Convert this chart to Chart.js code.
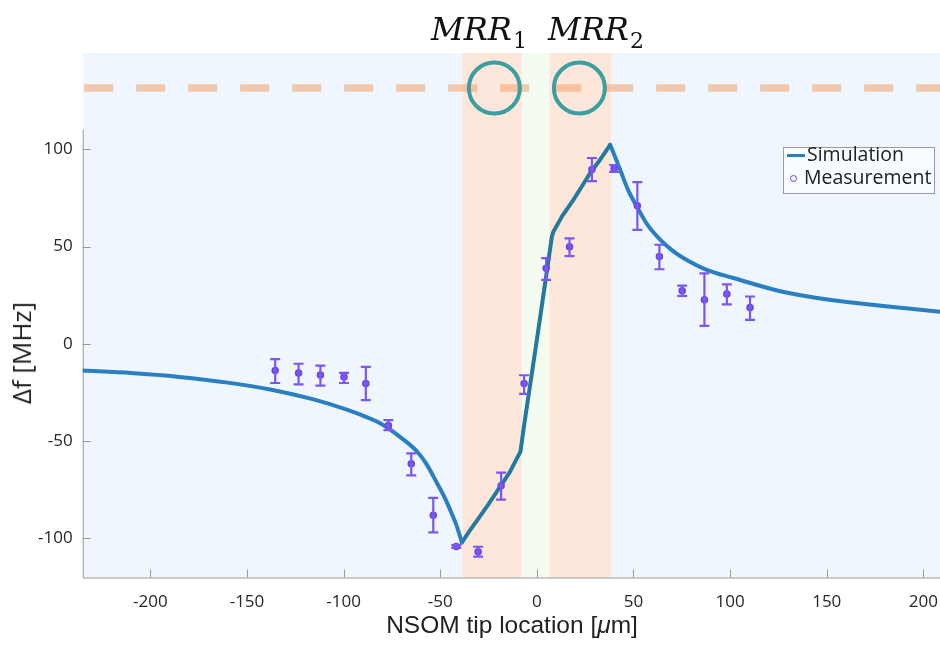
<!DOCTYPE html>
<html>
<head>
<meta charset="utf-8">
<script src="https://cdn.jsdelivr.net/npm/chart.js@4"></script>
<style>
  body { margin: 0; background: #fff; }
  #wrap { position: relative; width: 940px; height: 645px; overflow: hidden; }
  .mrr { position: absolute; font-family: "DejaVu Serif", serif; font-style: italic; font-size: 32px; line-height: 32px; color: #111; white-space: nowrap; }
  .mrr span { font-style: normal; font-size: 22px; vertical-align: -8px; margin-left: 1px; }
  #legend { position: absolute; left: 783px; top: 147px; width: 150px; height: 45px; border: 1px solid #9a9a9a; background: #f8fbff; font-family: "Open Sans", sans-serif; font-size: 19.5px; color: #222; }
  #legend .row { position: absolute; left: 0; height: 23px; line-height: 23px; white-space: nowrap; }
  #ylabel { position: absolute; left: 21px; top: 353px; transform: translate(-50%, -50%) rotate(-90deg); font-family: "Open Sans", sans-serif; font-size: 26px; color: #222; white-space: nowrap; }
  #xlabel { position: absolute; left: 512px; top: 625px; transform: translate(-50%, -50%); font-family: "Liberation Sans", sans-serif; font-size: 24.5px; color: #222; white-space: nowrap; }
</style>
</head>
<body>
<div id="wrap">
  <canvas id="chart"></canvas>
  <div class="mrr" style="left:431px; top:13px;">MRR<span>1</span></div>
  <div class="mrr" style="left:548px; top:13px;">MRR<span>2</span></div>
  <div id="legend">
    <div class="row" style="top:-6px;"><span style="display:inline-block;width:18px;height:3px;background:#2a7fc1;vertical-align:middle;margin:0 2px 0 3px;"></span>Simulation</div>
    <div class="row" style="top:17px;"><span style="display:inline-block;width:5px;height:5px;border:1.5px solid #6a42e8;border-radius:50%;vertical-align:middle;margin:0 7px 0 6px;"></span>Measurement</div>
  </div>
  <div id="ylabel">Δf [MHz]</div>
  <div id="xlabel">NSOM tip location [<i>μ</i>m]</div>
</div>
<script>
// simulated frequency shift along the tip path
const simX = [-235, -210, -185, -160, -138, -116, -98, -90, -80, -70, -62, -57, -51.7, -48, -44.9, -41.4, -38.8,
  -35, -30, -25, -19, -14, -8.5, -6.9, 0, 7.8, 8.5, 13, 18.9, 23, 27.6, 33, 37.9,
  40.5, 43.1, 47, 51.7, 57, 63.8, 70, 75.8, 87.9, 101.7, 126, 151.3, 178, 208.6];
const simY = [-13.8, -15.1, -17.1, -20.0, -23.5, -28.5, -34.0, -37.0, -41.5, -48.5, -55.4, -62, -71.6, -78.5, -85.3, -93.9, -102.2,
  -96.5, -89.5, -82.5, -73.5, -66, -55.5, -44, 2, 55.2, 57.5, 65.5, 74, 80.5, 87.8, 95, 102.3,
  96, 89.5, 79.5, 70.6, 61.5, 53.5, 48, 44.1, 38, 33.8, 27, 22.6, 19.5, 16.5];
// the two sharp corners of the curve (dip and peak)
const simDipX = -38.8;
const simPeakX = 37.9;

// measured points with error bar ends
const measX = [-135.4, -123.3, -112.0, -99.8, -88.5, -76.8, -65.0, -53.6, -41.7, -30.4, -18.5,
  -6.6, 4.8, 16.9, 28.5, 40.0, 52.0, 63.4, 75.2, 86.7, 98.3, 110.3];
const measY = [-13.7, -15.0, -16.1, -17.1, -20.5, -42.0, -61.7, -88.2, -104.3, -106.9, -73.0,
  -20.5, 38.8, 49.9, 89.6, 90.1, 70.9, 44.8, 27.3, 22.6, 25.6, 18.6];
const measHi = [-7.9, -10.3, -11.3, -15.0, -11.9, -39.3, -56.4, -79.3, -103.6, -104.4, -66.3,
  -16.2, 44.0, 54.2, 95.5, 91.9, 83.1, 50.9, 29.9, 36.2, 30.5, 24.3];
const measLo = [-20.2, -20.9, -21.5, -20.2, -29.0, -44.4, -67.7, -97.0, -105.0, -109.5, -80.2,
  -25.8, 32.8, 45.1, 83.6, 88.4, 58.5, 38.3, 24.6, 9.2, 20.2, 12.3];

// resonator regions and markers
const ringBands = [[-38.5, -7.8], [6.4, 38.4]];
const gapBand = [-7.8, 6.4];
const ringCenters = [-22, 22];
const waveguideY = 131.5;

const xTicks = [-200, -150, -100, -50, 0, 50, 100, 150, 200];
const yTicks = [-100, -50, 0, 50, 100];

const axisColor = '#9a9a9a';
const simColor = '#2a7fc1';
const simColorInRing = '#24799f';

const decorPlugin = {
  id: 'decor',
  beforeDatasetsDraw(chart) {
    const { ctx, chartArea: a, scales: { x, y } } = chart;
    ctx.save();
    ctx.fillStyle = '#f0f6fe';
    ctx.fillRect(a.left, a.top, a.right - a.left, a.bottom - a.top);
    ctx.fillStyle = '#fde7da';
    ringBands.forEach(b => {
      const x0 = x.getPixelForValue(b[0]), x1 = x.getPixelForValue(b[1]);
      ctx.fillRect(x0, a.top, x1 - x0, a.bottom - a.top);
    });
    ctx.fillStyle = '#f4fbf1';
    const g0 = x.getPixelForValue(gapBand[0]), g1 = x.getPixelForValue(gapBand[1]);
    ctx.fillRect(g0, a.top, g1 - g0, a.bottom - a.top);

    // waveguide dashes
    const wy = y.getPixelForValue(waveguideY);
    ctx.strokeStyle = 'rgba(242,150,88,0.48)';
    ctx.lineWidth = 7.5;
    ctx.setLineDash([29, 23]);
    ctx.beginPath();
    ctx.moveTo(a.left + 1.5, wy);
    ctx.lineTo(a.right, wy);
    ctx.stroke();
    ctx.setLineDash([]);

    // rings
    ctx.strokeStyle = '#3b9ea0';
    ctx.lineWidth = 4;
    ringCenters.forEach(c => {
      ctx.beginPath();
      ctx.arc(x.getPixelForValue(c), wy, 25.5, 0, Math.PI * 2);
      ctx.stroke();
    });

    // axes with inward ticks
    ctx.strokeStyle = axisColor;
    ctx.lineWidth = 1;
    ctx.beginPath();
    ctx.moveTo(a.left + 0.5, y.getPixelForValue(110));
    ctx.lineTo(a.left + 0.5, a.bottom + 0.5);
    ctx.lineTo(a.right, a.bottom + 0.5);
    xTicks.forEach(v => {
      const px = Math.round(x.getPixelForValue(v)) + 0.5;
      ctx.moveTo(px, a.bottom);
      ctx.lineTo(px, a.bottom - 8);
    });
    yTicks.forEach(v => {
      const py = Math.round(y.getPixelForValue(v)) + 0.5;
      ctx.moveTo(a.left, py);
      ctx.lineTo(a.left + 8, py);
    });
    ctx.stroke();
    ctx.restore();
  },
  afterDatasetsDraw(chart) {
    const { ctx, scales: { x, y } } = chart;
    ctx.save();
    ctx.strokeStyle = '#7b57f2';
    ctx.lineWidth = 2.2;
    ctx.beginPath();
    measX.forEach((mx, i) => {
      const px = x.getPixelForValue(mx);
      const hi = y.getPixelForValue(measHi[i]);
      const lo = y.getPixelForValue(measLo[i]);
      ctx.moveTo(px, hi); ctx.lineTo(px, lo);
      ctx.moveTo(px - 5, hi); ctx.lineTo(px + 5, hi);
      ctx.moveTo(px - 5, lo); ctx.lineTo(px + 5, lo);
    });
    ctx.stroke();
    ctx.restore();
  }
};

const simPoints = simX.map((v, i) => ({ x: v, y: simY[i] }));
// smooth tails on each side, straight pieces between the dip and the peak
const simLeft = simPoints.filter(p => p.x <= simDipX);
const simMid = simPoints.filter(p => p.x >= simDipX && p.x <= simPeakX);
const simRight = simPoints.filter(p => p.x >= simPeakX);

const simLine = (data, smooth, color) => ({
  label: 'Simulation',
  data: data,
  showLine: true,
  pointRadius: 0,
  borderWidth: 4,
  borderColor: color,
  borderCapStyle: 'round',
  borderJoinStyle: 'round',
  cubicInterpolationMode: smooth ? 'monotone' : 'default',
  tension: 0
});

new Chart(document.getElementById('chart'), {
  type: 'scatter',
  data: {
    datasets: [
      {
        label: 'Measurement',
        data: measX.map((v, i) => ({ x: v, y: measY[i] })),
        pointRadius: 3,
        pointBackgroundColor: '#7b5cf0',
        pointBorderColor: '#6a42e8',
        pointBorderWidth: 1.5
      },
      simLine(simLeft, true, simColor),
      simLine(simMid, false, simColorInRing),
      simLine(simRight, true, simColor)
    ]
  },
  options: {
    responsive: true,
    maintainAspectRatio: false,
    animation: false,
    layout: { autoPadding: false, padding: { top: 53, left: 0, right: 0, bottom: 0 } },
    plugins: { legend: { display: false }, tooltip: { enabled: false } },
    scales: {
      x: {
        type: 'linear',
        min: -235,
        max: 208.6,
        grid: { display: false, drawTicks: false },
        border: { display: false },
        afterBuildTicks: s => { s.ticks = xTicks.map(v => ({ value: v })); },
        afterFit: s => { s.height = 67.5; s.paddingLeft = 0; s.paddingRight = 0; },
        ticks: { padding: 14, color: '#262626', font: { family: 'Open Sans', size: 17 }, maxRotation: 0 }
      },
      y: {
        type: 'linear',
        min: -120.2,
        max: 149.5,
        grid: { display: false, drawTicks: false },
        border: { display: false },
        afterBuildTicks: s => { s.ticks = yTicks.map(v => ({ value: v })); },
        afterFit: s => { s.width = 82.7; s.paddingTop = 0; s.paddingBottom = 0; },
        ticks: { padding: 10, color: '#262626', font: { family: 'Open Sans', size: 17 } }
      }
    }
  },
  plugins: [decorPlugin]
});
</script>
</body>
</html>
